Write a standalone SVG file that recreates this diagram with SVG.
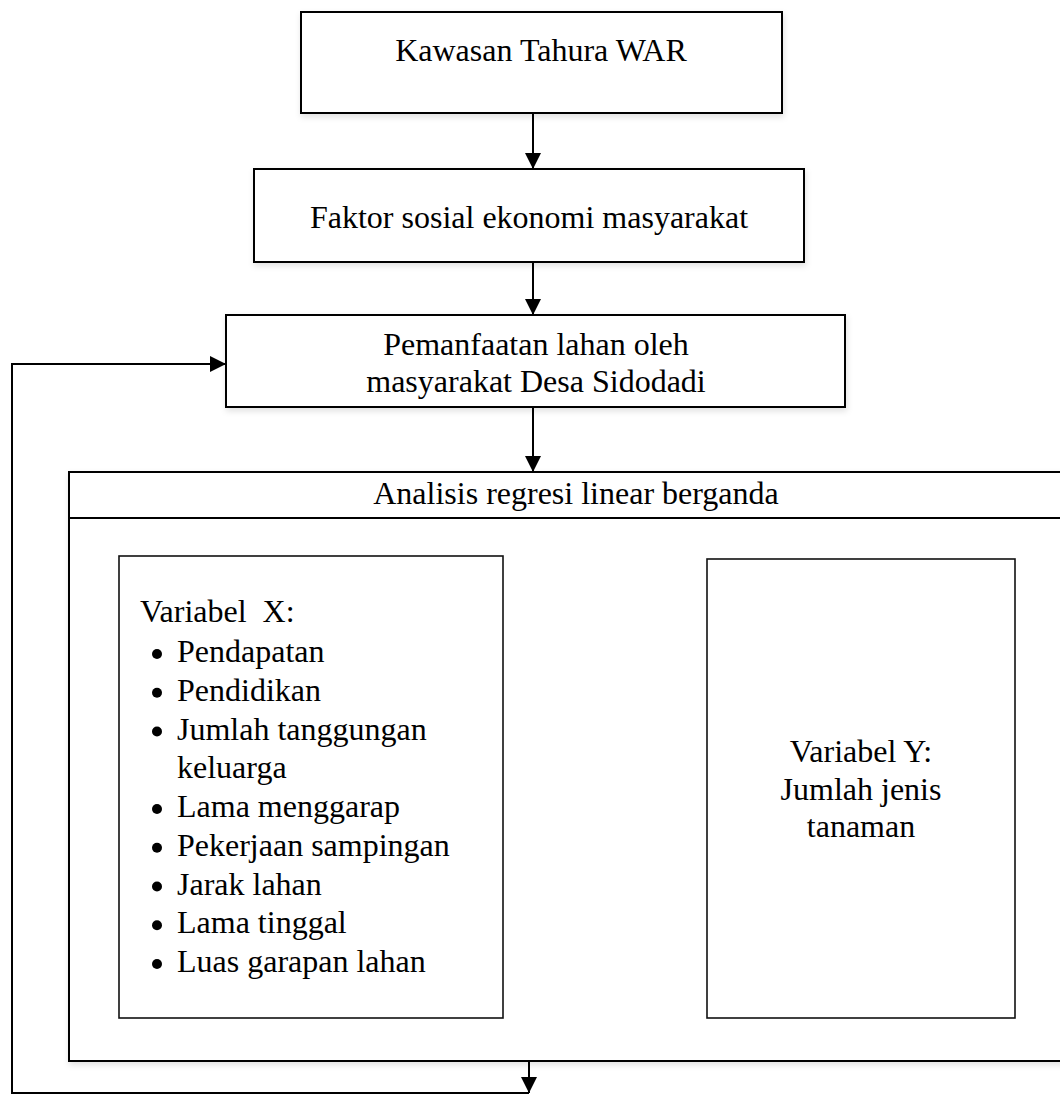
<svg xmlns="http://www.w3.org/2000/svg" width="1060" height="1095" viewBox="0 0 1060 1095">
  <defs>
    <marker id="ah" markerUnits="userSpaceOnUse" markerWidth="16" markerHeight="16" refX="16" refY="8" orient="auto">
      <path d="M0,0 L16,8 L0,16 z" fill="#000"/>
    </marker>
    <filter id="sh" x="-5%" y="-5%" width="110%" height="115%">
      <feDropShadow dx="1" dy="3" stdDeviation="3" flood-color="#000" flood-opacity="0.12"/>
    </filter>
  </defs>
  <style>
    .box { fill: #fff; stroke: #000; stroke-width: 2; }
    .ibox { fill: #fff; stroke: #111; stroke-width: 1.6; }
    .t { font-family: 'Liberation Serif', 'Times New Roman', Tinos, 'DejaVu Serif', serif; font-size: 32px; fill: #000; }
    .c { text-anchor: middle; }
    .ln { fill: none; stroke: #000; stroke-width: 2; }
    .dot { fill: #000; }
  </style>
  <rect width="1060" height="1095" fill="#fff"/>

  <g id="connectors">
    <line class="ln" x1="533" y1="113" x2="533" y2="169" marker-end="url(#ah)"/>
    <line class="ln" x1="533" y1="262" x2="533" y2="315" marker-end="url(#ah)"/>
    <line class="ln" x1="533" y1="407" x2="533" y2="472" marker-end="url(#ah)"/>
    <line class="ln" x1="529" y1="1061" x2="529" y2="1093" marker-end="url(#ah)"/>
    <polyline class="ln" points="529,1093 12,1093 12,364 226,364" marker-end="url(#ah)"/>
    <path d="M550,773 L653,773 L653,763 L678,784 L653,805 L653,794 L550,794 z" fill="#000"/>
  </g>

  <g id="node-kawasan">
    <rect class="box" x="301" y="12" width="481" height="101" filter="url(#sh)"/>
    <text class="t c" x="541" y="61" font-family="Liberation Serif, serif">Kawasan Tahura WAR</text>
  </g>

  <g id="node-faktor">
    <rect class="box" x="254" y="169" width="550" height="93" filter="url(#sh)"/>
    <text class="t c" x="529" y="228">Faktor sosial ekonomi masyarakat</text>
  </g>

  <g id="node-pemanfaatan">
    <rect class="box" x="226" y="315" width="619" height="92" filter="url(#sh)"/>
    <text class="t c" x="536" y="355">Pemanfaatan lahan oleh</text>
    <text class="t c" x="536" y="392">masyarakat Desa Sidodadi</text>
  </g>

  <g id="node-analisis">
    <rect class="box" x="69" y="472" width="1030" height="589" filter="url(#sh)"/>
    <line class="ln" x1="69" y1="518" x2="1060" y2="518"/>
    <text class="t c" x="576" y="504">Analisis regresi linear berganda</text>
  </g>

  <g id="node-variabel-x">
    <rect class="ibox" x="119" y="556" width="384" height="462"/>
    <text class="t" x="140" y="622" xml:space="preserve">Variabel  X:</text>
    <g class="dot">
      <circle cx="157" cy="654" r="5"/>
      <circle cx="157" cy="692.75" r="5"/>
      <circle cx="157" cy="731.5" r="5"/>
      <circle cx="157" cy="809" r="5"/>
      <circle cx="157" cy="847.75" r="5"/>
      <circle cx="157" cy="886.5" r="5"/>
      <circle cx="157" cy="925.25" r="5"/>
      <circle cx="157" cy="964" r="5"/>
    </g>
    <text class="t" x="177" y="662">Pendapatan</text>
    <text class="t" x="177" y="700.75">Pendidikan</text>
    <text class="t" x="177" y="739.5">Jumlah tanggungan</text>
    <text class="t" x="177" y="778.25">keluarga</text>
    <text class="t" x="177" y="817">Lama menggarap</text>
    <text class="t" x="177" y="855.75">Pekerjaan sampingan</text>
    <text class="t" x="177" y="894.5">Jarak lahan</text>
    <text class="t" x="177" y="933.25">Lama tinggal</text>
    <text class="t" x="177" y="972">Luas garapan lahan</text>
  </g>

  <g id="node-variabel-y">
    <rect class="ibox" x="707" y="559" width="308" height="459"/>
    <text class="t c" x="861" y="762">Variabel Y:</text>
    <text class="t c" x="861" y="799.5">Jumlah jenis</text>
    <text class="t c" x="861" y="837">tanaman</text>
  </g>
</svg>
